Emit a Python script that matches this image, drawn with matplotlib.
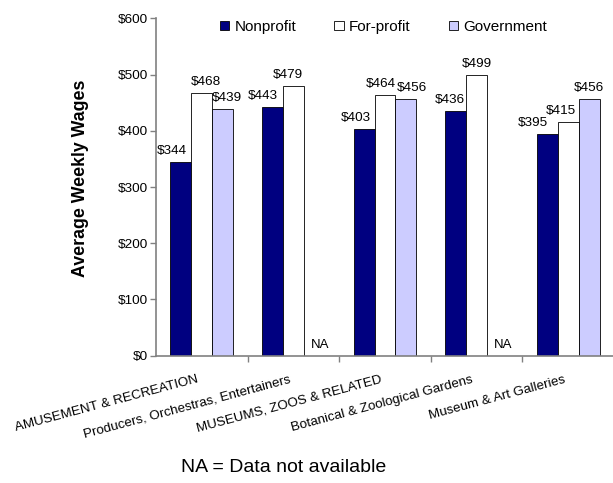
import numpy as np
import matplotlib
matplotlib.use("Agg")
import matplotlib.pyplot as plt
from matplotlib.transforms import offset_copy
from matplotlib.patches import Patch

plt.rcParams['font.family'] = ['Liberation Sans', 'DejaVu Sans']

categories = [
    "AMUSEMENT & RECREATION",
    "Producers, Orchestras, Entertainers",
    "MUSEUMS, ZOOS & RELATED",
    "Botanical & Zoological Gardens",
    "Museum & Art Galleries",
]
series_names = ["Nonprofit", "For-profit", "Government"]
nonprofit = [344, 443, 403, 436, 395]
for_profit = [468, 479, 464, 499, 415]
government = [439, None, 456, None, 456]
y_ticks = [0, 100, 200, 300, 400, 500, 600]
y_label = "Average Weekly Wages"
note = "NA = Data not available"

colors = ["#000080", "#FFFFFF", "#CCCCFF"]
grey = "#808080"

# horizontal nudges (pixels) that keep neighbouring value labels apart
label_shift = [
    [-9, -10, -8, -6, -14],
    [4, -6, -4, 0, -7],
    [4, 0, 6, 0, 0],
]

W, H = 613, 483
fig = plt.figure(figsize=(W / 100, H / 100), dpi=100)
ax = fig.add_axes([156 / W, 1 - 355.7 / H, 458 / W, (355.7 - 18.3) / H])

x = np.arange(len(categories))
bw = 21 / 92
all_series = [nonprofit, for_profit, government]
for i, (vals, c) in enumerate(zip(all_series, colors)):
    xs = x + (i - 1) * bw
    for j, (xi, v) in enumerate(zip(xs, vals)):
        if v is None:
            ax.annotate("NA", (xi, 0), xytext=(6, 5), textcoords="offset pixels",
                        ha="center", va="bottom", fontsize=9.5)
            continue
        ax.bar(xi, v, width=bw, color=c, edgecolor="black", linewidth=0.6)
        ax.annotate(f"${v}", (xi, v), xytext=(label_shift[i][j], 5),
                    textcoords="offset pixels",
                    ha="center", va="bottom", fontsize=9.7)

ax.set_xlim(-0.5, 4.5)
ax.set_ylim(0, 600)
ax.set_yticks(y_ticks)
ax.set_yticklabels([f"${t}" for t in y_ticks], fontsize=9.7)
ax.tick_params(axis="y", length=4, width=1, color=grey, pad=2)

ax.set_xticks(x)
ax.set_xticklabels([])
ax.tick_params(axis="x", which="major", length=0)
ax.set_xticks(x[:-1] + 0.5, minor=True)
ax.tick_params(axis="x", which="minor", length=4, width=1, color=grey, direction="out")

for s in ["top", "right"]:
    ax.spines[s].set_visible(False)
for s in ["left", "bottom"]:
    ax.spines[s].set_color(grey)
    ax.spines[s].set_linewidth(1.2)

lab_tr = offset_copy(ax.get_xaxis_transform(), fig=fig, x=-5, y=-18, units="dots")
for xi, name in zip(x, categories):
    ax.text(xi, 0, name, transform=lab_tr, rotation=15, rotation_mode="anchor",
            ha="right", va="top", fontsize=9.6)

ax.set_ylabel(y_label, fontsize=12.8, fontweight="bold")
ax.yaxis.set_label_coords(-(156 - 89) / 458, 0.525)

handles = [Patch(facecolor=c, edgecolor="black", linewidth=0.6) for c in colors]
fig.legend(handles, series_names, loc="center left",
           bbox_to_anchor=(220 / W, 1 - 27 / H), ncol=3, frameon=False,
           fontsize=11, handlelength=0.6, handleheight=0.6, handletextpad=0.35,
           columnspacing=2.5, borderpad=0, borderaxespad=0)

fig.text(181 / W, 1 - 472 / H, note, fontsize=14, ha="left", va="baseline")

fig.savefig("out.png", dpi=100)
